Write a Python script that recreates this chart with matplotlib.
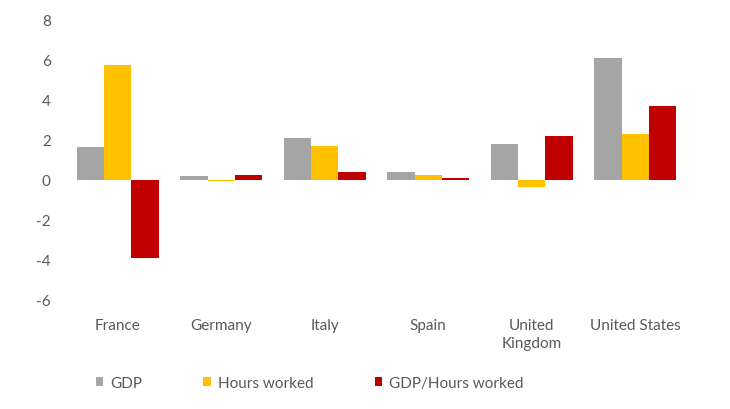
import matplotlib
matplotlib.use("Agg")
import matplotlib.pyplot as plt
import numpy as np

categories = ["France", "Germany", "Italy", "Spain", "United\nKingdom", "United States"]
gdp = [1.67, 0.22, 2.1, 0.38, 1.8, 6.1]
hours = [5.76, -0.05, 1.7, 0.27, -0.37, 2.29]
gdp_per_hour = [-3.88, 0.25, 0.38, 0.12, 2.19, 3.71]
series_names = ["GDP", "Hours worked", "GDP/Hours worked"]
colors = ["#A5A5A5", "#FFC000", "#C00000"]

plt.rcParams['font.family'] = ['Lato', 'DejaVu Sans']
plt.rcParams['axes.unicode_minus'] = False
txt = "#595959"
fs = 11

fig = plt.figure(figsize=(7.3, 4.1), dpi=100)
ax = fig.add_axes([66/730, 1-301/410, (687-66)/730, (301-21)/410])

x = np.arange(len(categories))
w = 0.264
for i, (vals, name, c) in enumerate(zip([gdp, hours, gdp_per_hour], series_names, colors)):
    ax.bar(x + (i - 1) * w, vals, w, color=c, label=name)

ax.set_xlim(-0.5, len(categories) - 0.5)
ax.set_ylim(-6, 8)
ax.set_yticks(range(-6, 9, 2))
ax.set_xticks(x)
ax.set_xticklabels(categories, va="top", linespacing=1.35)
for s in ax.spines.values():
    s.set_visible(False)
ax.tick_params(axis='both', length=0, colors=txt, labelsize=fs)
ax.tick_params(axis='y', pad=11)
ax.tick_params(axis='x', pad=13)

leg = fig.legend(loc="lower left", bbox_to_anchor=(82/730, 5/410), ncol=3, frameon=False,
                 fontsize=fs, handlelength=0.5, handleheight=0.5, handletextpad=0.45,
                 columnspacing=4.0)
for t in leg.get_texts():
    t.set_color(txt)

fig.savefig("out.png", dpi=100)
